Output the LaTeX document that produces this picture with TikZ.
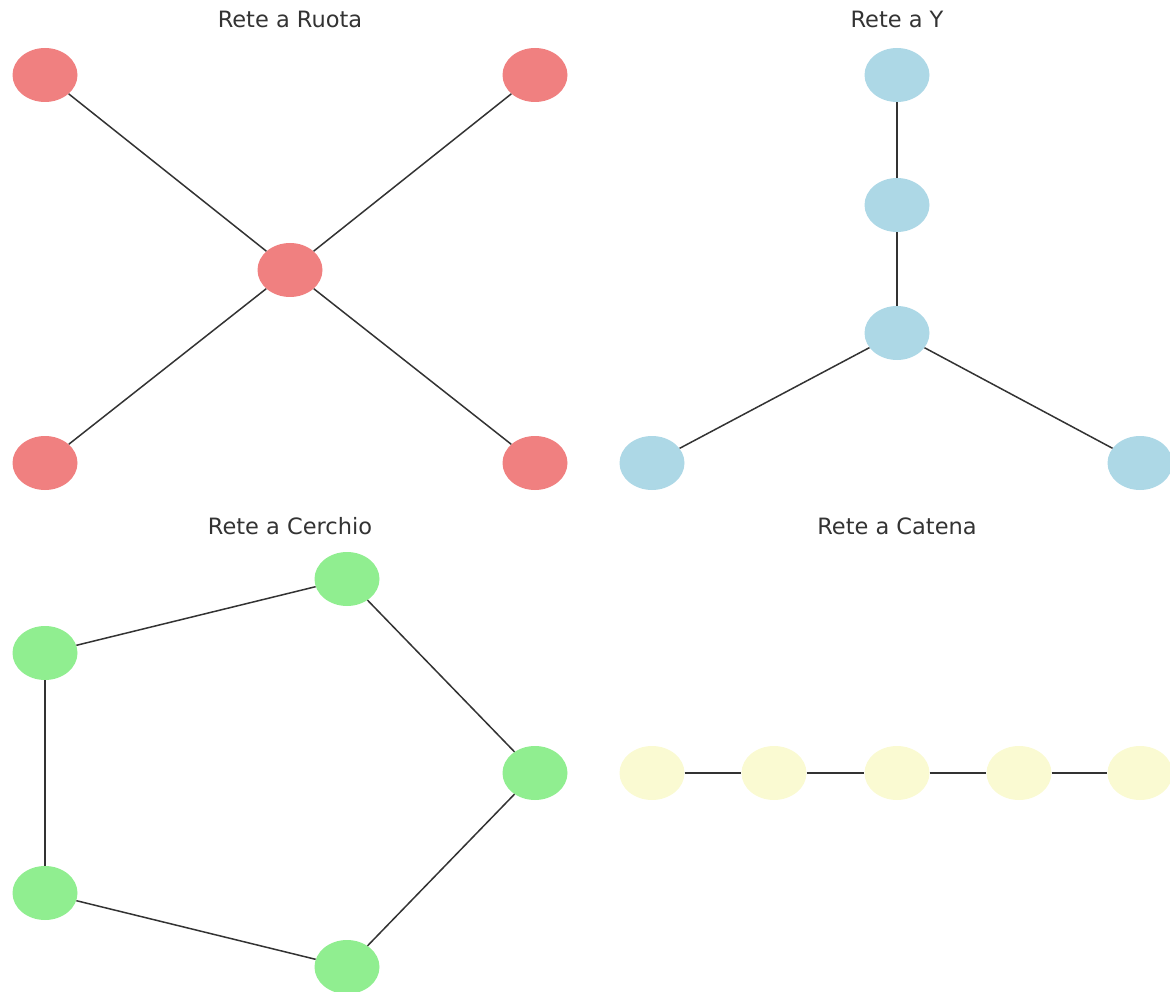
\documentclass[tikz,border=0pt]{standalone}
\usepackage{fontspec}
\setmainfont{DejaVu Sans}
\definecolor{wheelc}{HTML}{F08080}
\definecolor{yc}{HTML}{ADD8E6}
\definecolor{ringc}{HTML}{90EE90}
\definecolor{chainc}{HTML}{FAFAD2}
\begin{document}
\begin{tikzpicture}[x=1pt,y=-1pt,
  vtx/.style={ellipse,minimum width=65pt,minimum height=54pt,inner sep=0pt,draw=none},
  edge/.style={draw=black!80,line width=1.5pt},
  ttl/.style={font=\fontsize{22.5}{26}\selectfont,text=black!80,anchor=base}]
\usetikzlibrary{shapes.geometric}
\path[use as bounding box] (0,0) rectangle (1170,992);

% Wheel network
\node[ttl] (t1) at (290,28) {Rete a Ruota};
\node[vtx,fill=wheelc] (w0) at (290,270) {};
\node[vtx,fill=wheelc] (w1) at (45,75) {};
\node[vtx,fill=wheelc] (w2) at (535,75) {};
\node[vtx,fill=wheelc] (w3) at (45,463) {};
\node[vtx,fill=wheelc] (w4) at (535,463) {};
\foreach \n in {w1,w2,w3,w4} \draw[edge] (w0) -- (\n);

% Y network
\node[ttl] (t2) at (897,28) {Rete a Y};
\node[vtx,fill=yc] (y1) at (897,75) {};
\node[vtx,fill=yc] (y2) at (897,205) {};
\node[vtx,fill=yc] (y3) at (897,333) {};
\node[vtx,fill=yc] (y4) at (652,463) {};
\node[vtx,fill=yc] (y5) at (1140,463) {};
\draw[edge] (y1) -- (y2);
\draw[edge] (y2) -- (y3);
\draw[edge] (y3) -- (y4);
\draw[edge] (y3) -- (y5);

% Ring network
\node[ttl] (t3) at (290,534) {Rete a Cerchio};
\node[vtx,fill=ringc] (r1) at (347,579) {};
\node[vtx,fill=ringc] (r2) at (45,653) {};
\node[vtx,fill=ringc] (r3) at (535,773) {};
\node[vtx,fill=ringc] (r4) at (45,893) {};
\node[vtx,fill=ringc] (r5) at (347,967) {};
\draw[edge] (r1) -- (r2);
\draw[edge] (r2) -- (r4);
\draw[edge] (r4) -- (r5);
\draw[edge] (r5) -- (r3);
\draw[edge] (r3) -- (r1);

% Chain network
\node[ttl] (t4) at (897,534) {Rete a Catena};
\node[vtx,fill=chainc] (c1) at (652,773) {};
\node[vtx,fill=chainc] (c2) at (774,773) {};
\node[vtx,fill=chainc] (c3) at (897,773) {};
\node[vtx,fill=chainc] (c4) at (1019,773) {};
\node[vtx,fill=chainc] (c5) at (1140,773) {};
\draw[edge] (c1) -- (c2);
\draw[edge] (c2) -- (c3);
\draw[edge] (c3) -- (c4);
\draw[edge] (c4) -- (c5);
\end{tikzpicture}
\end{document}
